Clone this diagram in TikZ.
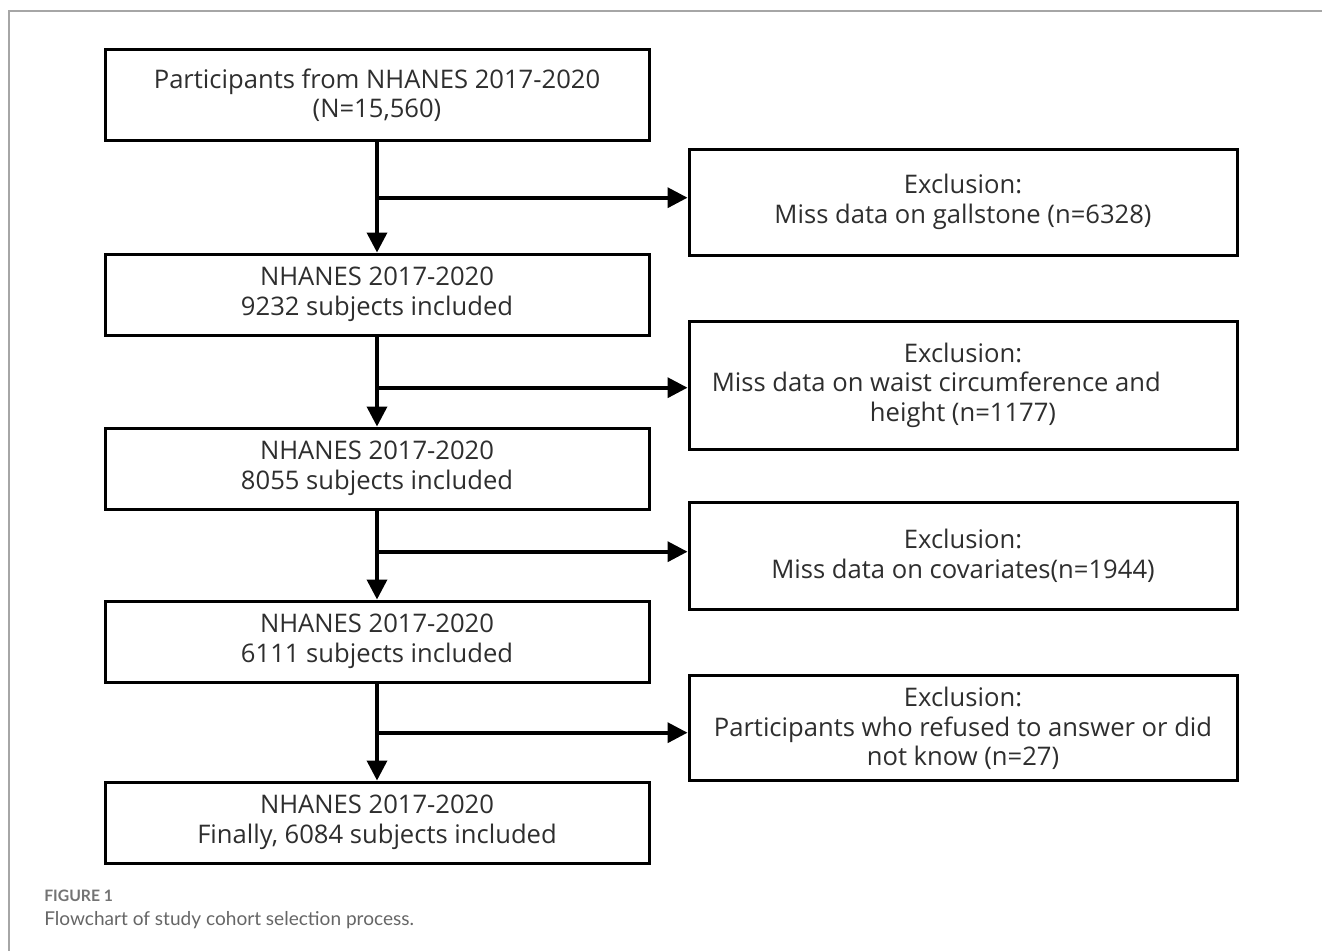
\documentclass[tikz,border=0pt]{standalone}
\usepackage{fontspec}
\setmainfont{Open Sans}
\newfontfamily\capfont{Lato}
\usetikzlibrary{arrows.meta}
\begin{document}
\begin{tikzpicture}[x=0.75pt,y=-0.75pt,
  box/.style={draw=black, line width=2.25pt, fill=white, align=center, text=black!82,
    font=\fontsize{19.2pt}{22.1pt}\selectfont, inner sep=0pt},
  lbox/.style={box, minimum width=408pt, minimum height=60.75pt},
  rbox/.style={box, minimum width=411pt},
  conn/.style={line width=2.7pt, -{Triangle[length=15pt,width=15pt]}},
  frame/.style={draw=black!35, line width=1.2pt},
  capsmall/.style={anchor=base west, inner sep=0pt, text=black!55, font=\capfont\bfseries\fontsize{11.8pt}{13pt}\selectfont},
  capmain/.style={anchor=base west, inner sep=0pt, text=black!60, font=\capfont\fontsize{14.3pt}{17pt}\selectfont},
]
\useasboundingbox (0,0) rectangle (1322,951);
\draw[frame] (1322,11) -- (9,11) -- (9,951);

\node[lbox, minimum height=68.25pt] (b1) at (377,95) {Participants from NHANES 2017-2020\\(N=15,560)};
\node[lbox] (b2) at (377,294.5) {NHANES 2017-2020\\9232 subjects included};
\node[lbox] (b3) at (377,468.5) {NHANES 2017-2020\\8055 subjects included};
\node[lbox] (b4) at (377,641.5) {NHANES 2017-2020\\6111 subjects included};
\node[lbox] (b5) at (377,822.5) {NHANES 2017-2020\\Finally, 6084 subjects included};

\node[rbox, minimum height=79.5pt] (r1) at (963,202) {Exclusion:\\Miss data on gallstone (n=6328)};
\node[rbox, minimum height=96pt] (r2) at (963,385.3) {Exclusion:\\Miss data on waist circumference and\rule{40pt}{0pt}\\height (n=1177)};
\node[rbox, minimum height=80.25pt] (r3) at (963,555.8) {Exclusion:\\Miss data on covariates(n=1944)};
\node[rbox, minimum height=78.75pt] (r4) at (963,728.3) {Exclusion:\\Participants who refused to answer or did\\not know (n=27)};

\coordinate (j1) at (377,197.7);
\coordinate (j2) at (377,387.7);
\coordinate (j3) at (377,551.7);
\coordinate (j4) at (377,732.7);

\draw[conn] (b1) -- (b2);
\draw[conn] (b2) -- (b3);
\draw[conn] (b3) -- (b4);
\draw[conn] (b4) -- (b5);
\draw[conn] (j1) -- (j1 -| r1.west);
\draw[conn] (j2) -- (j2 -| r2.west);
\draw[conn] (j3) -- (j3 -| r3.west);
\draw[conn] (j4) -- (j4 -| r4.west);

\node[capsmall] (c1) at (44,901.7) {FIGURE 1};
\node[capmain] (c2) at (44,925) {Flowchart of study cohort selection process.};
\end{tikzpicture}
\end{document}
